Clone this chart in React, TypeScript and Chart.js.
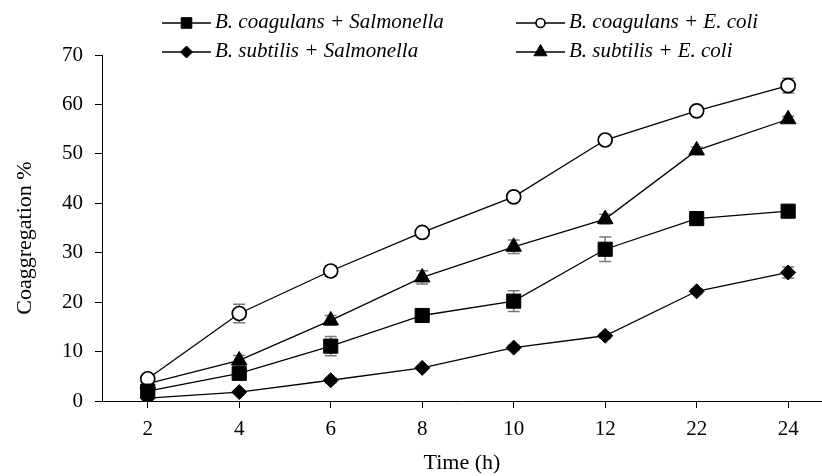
import React, { useEffect, useRef } from "react";
import { Chart, registerables } from "chart.js";

Chart.register(...registerables);

const timeLabels = ["2", "4", "6", "8", "10", "12", "22", "24"];
const yTickValues = [0, 10, 20, 30, 40, 50, 60, 70];

const coagSalmonella = [2.0, 5.6, 11.1, 17.3, 20.2, 30.7, 36.9, 38.4];
const coagEcoli = [4.5, 17.7, 26.3, 34.1, 41.3, 52.8, 58.7, 63.8];
const subSalmonella = [0.6, 1.8, 4.2, 6.7, 10.8, 13.2, 22.2, 26.0];
const subEcoli = [3.5, 8.2, 16.3, 25.0, 31.2, 36.8, 50.7, 57.0];

const coagSalmonellaErr = [0.5, 0.5, 1.95, 0.5, 2.1, 2.5, 0.5, 0.5];
const coagEcoliErr = [0.5, 1.85, 1.0, 0.5, 0.6, 0.5, 0.5, 1.5];
const subSalmonellaErr = [0.3, 0.3, 0.5, 0.3, 0.5, 0.5, 0.5, 1.1];
const subEcoliErr = [0.5, 1.0, 1.0, 1.35, 1.35, 1.0, 0.7, 0.6];

const FONT = "'Liberation Serif', 'Times New Roman', serif";

type Series = {
  label: string;
  data: number[];
  err: number[];
  style: string;
  radius: number;
  fill: string;
  borderWidth: number;
  legendRadius: number;
  legendX: number;
  legendY: number;
};

const series: Series[] = [
  { label: "B. coagulans + Salmonella", data: coagSalmonella, err: coagSalmonellaErr, style: "rect", radius: 10, fill: "#000", borderWidth: 1, legendRadius: 7.5, legendX: 162, legendY: 23 },
  { label: "B. coagulans + E. coli", data: coagEcoli, err: coagEcoliErr, style: "circle", radius: 7, fill: "#fff", borderWidth: 1.7, legendRadius: 4.5, legendX: 516, legendY: 23 },
  { label: "B. subtilis + Salmonella", data: subSalmonella, err: subSalmonellaErr, style: "rectRot", radius: 7.5, fill: "#000", borderWidth: 1, legendRadius: 6, legendX: 162, legendY: 52 },
  { label: "B. subtilis + E. coli", data: subEcoli, err: subEcoliErr, style: "triangle", radius: 9, fill: "#000", borderWidth: 1, legendRadius: 7.5, legendX: 516, legendY: 52 },
];

function drawMarker(ctx: CanvasRenderingContext2D, style: string, x: number, y: number, r: number, fill: string, bw: number) {
  ctx.save();
  ctx.beginPath();
  if (style === "circle") {
    ctx.arc(x, y, r, 0, Math.PI * 2);
  } else if (style === "rect") {
    const s = Math.SQRT1_2 * r;
    ctx.rect(x - s, y - s, 2 * s, 2 * s);
  } else if (style === "rectRot") {
    ctx.moveTo(x - r, y);
    ctx.lineTo(x, y - r);
    ctx.lineTo(x + r, y);
    ctx.lineTo(x, y + r);
    ctx.closePath();
  } else if (style === "triangle") {
    const a = (2 * Math.PI) / 3;
    ctx.moveTo(x, y - r);
    ctx.lineTo(x + Math.sin(a) * r, y - Math.cos(a) * r);
    ctx.lineTo(x + Math.sin(2 * a) * r, y - Math.cos(2 * a) * r);
    ctx.closePath();
  }
  ctx.fillStyle = fill;
  ctx.fill();
  ctx.lineWidth = bw;
  ctx.strokeStyle = "#000";
  ctx.stroke();
  ctx.restore();
}

export default function App() {
  const ref = useRef<HTMLCanvasElement>(null);

  useEffect(() => {
    if (!ref.current) return;

    const errorBars = {
      id: "errorBars",
      beforeDatasetsDraw(chart: any) {
        const ctx = chart.ctx as CanvasRenderingContext2D;
        const xs = chart.scales.x;
        const ys = chart.scales.y;
        ctx.save();
        ctx.strokeStyle = "#7a7a7a";
        ctx.lineWidth = 1.5;
        series.forEach((s) => {
          s.data.forEach((v, i) => {
            const e = s.err[i];
            if (!e) return;
            const px = xs.getPixelForValue(i);
            const top = ys.getPixelForValue(v + e);
            const bot = ys.getPixelForValue(v - e);
            ctx.beginPath();
            ctx.moveTo(px, top);
            ctx.lineTo(px, bot);
            ctx.moveTo(px - 6, top);
            ctx.lineTo(px + 6, top);
            ctx.moveTo(px - 6, bot);
            ctx.lineTo(px + 6, bot);
            ctx.stroke();
          });
        });
        ctx.restore();
      },
    };

    const textPlugin = {
      id: "customLegendAndTitle",
      afterDraw(chart: any) {
        const ctx = chart.ctx as CanvasRenderingContext2D;
        ctx.save();
        series.forEach((s) => {
          ctx.beginPath();
          ctx.strokeStyle = "#000";
          ctx.lineWidth = 1.3;
          ctx.moveTo(s.legendX, s.legendY);
          ctx.lineTo(s.legendX + 49, s.legendY);
          ctx.stroke();
          drawMarker(ctx, s.style, s.legendX + 24.5, s.legendY, s.legendRadius, s.fill, s.borderWidth);
          ctx.fillStyle = "#000";
          ctx.font = `italic 21px ${FONT}`;
          ctx.textBaseline = "alphabetic";
          ctx.textAlign = "left";
          ctx.fillText(s.label, s.legendX + 53, s.legendY + 5);
        });
        // y-axis title
        ctx.translate(25, 238);
        ctx.rotate(-Math.PI / 2);
        ctx.font = `22px ${FONT}`;
        ctx.textAlign = "center";
        ctx.textBaseline = "middle";
        ctx.fillStyle = "#000";
        ctx.fillText("Coaggregation %", 0, 0);
        ctx.restore();
      },
    };

    const chart = new Chart(ref.current, {
      type: "line",
      data: {
        datasets: series.map((s) => ({
          label: s.label,
          data: s.data.map((v, i) => ({ x: i, y: v })),
          borderColor: "#000",
          borderWidth: 1.3,
          pointStyle: s.style as any,
          pointRadius: s.radius,
          pointBackgroundColor: s.fill,
          pointBorderColor: "#000",
          pointBorderWidth: s.borderWidth,
          tension: 0,
          fill: false,
        })),
      },
      options: {
        animation: false,
        responsive: false,
        maintainAspectRatio: false,
        layout: { padding: { top: 55, right: 0, bottom: 0, left: 0 } },
        plugins: {
          legend: { display: false },
          tooltip: { enabled: false },
        },
        scales: {
          x: {
            type: "linear",
            min: -0.5,
            max: 7.37,
            afterBuildTicks: (scale: any) => {
              scale.ticks = timeLabels.map((_, i) => ({ value: i }));
            },
            afterFit: (scale: any) => {
              scale.height = 75;
            },
            ticks: {
              callback: (v: any) => timeLabels[v as number] ?? "",
              font: { family: FONT, size: 21 },
              color: "#000",
              padding: 9,
              autoSkip: false,
              maxRotation: 0,
            },
            grid: { drawOnChartArea: false, drawTicks: true, tickLength: 7, color: "#000", lineWidth: 1 },
            border: { color: "#000", width: 1 },
            title: {
              display: true,
              text: "Time (h)",
              font: { family: FONT, size: 22 },
              color: "#000",
              padding: { top: 0, bottom: 0 },
            },
          },
          y: {
            min: 0,
            max: 70,
            afterBuildTicks: (scale: any) => {
              scale.ticks = yTickValues.map((v) => ({ value: v }));
            },
            afterFit: (scale: any) => {
              scale.width = 102;
            },
            ticks: {
              font: { family: FONT, size: 21 },
              color: "#000",
              padding: 12,
            },
            grid: { drawOnChartArea: false, drawTicks: true, tickLength: 7, color: "#000", lineWidth: 1 },
            border: { color: "#000", width: 1 },
            title: { display: false },
          },
        },
      },
      plugins: [errorBars, textPlugin],
    });

    return () => chart.destroy();
  }, []);

  return (
    <div style={{ position: "absolute", left: 0, top: 0, width: 822, height: 476, overflow: "hidden", background: "#fff" }}>
      <canvas ref={ref} width={833} height={476} style={{ display: "block" }} />
    </div>
  );
}
